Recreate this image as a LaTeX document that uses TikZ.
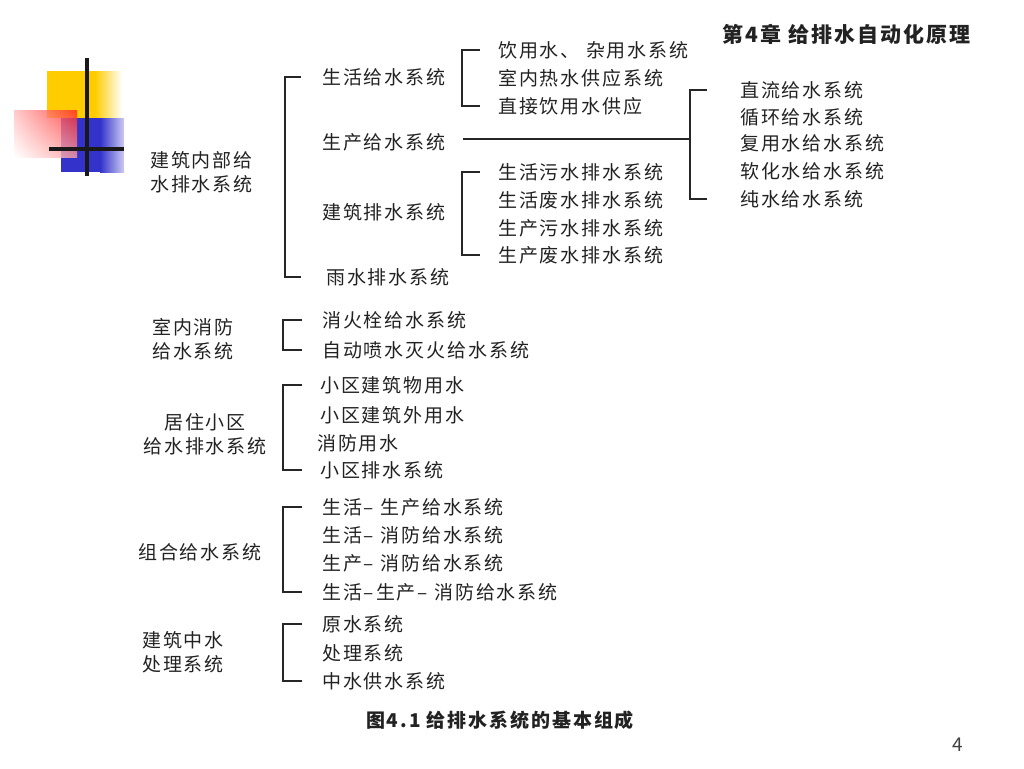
\documentclass[tikz,border=0pt]{standalone}
\usepackage{fontspec}
\usetikzlibrary{shadings}
\setmainfont{Noto Sans CJK SC}
\newfontfamily\cjsp[LetterSpace=10]{Noto Sans CJK SC}
\definecolor{txt}{HTML}{222222}
\definecolor{ylw}{HTML}{FFCC00}
\definecolor{blu}{HTML}{3333CC}
\definecolor{rd}{HTML}{FF2222}
\begin{document}
\begin{tikzpicture}[x=1pt,y=-1pt,
  lbl/.style={anchor=west,inner sep=0pt,text=txt,font=\cjsp\fontsize{19}{24}\selectfont},
  brk/.style={line width=1.8pt,draw=black!85}]
\useasboundingbox (0,0) rectangle (1024,768);
% logo
\fill[ylw] (47,71) rectangle (95,118);
\shade[left color=ylw,right color=white] (95,71) rectangle (122,118);
\fill[blu] (61,118) rectangle (100,172);
\shade[left color=blu,right color=blu!25] (100,118) rectangle (124,172);
\shade[upper right=rd,upper left=rd!30,lower right=rd!45,lower left=white,opacity=0.8] (14,110) rectangle (77,157);
\draw[line width=3.5pt,black!90] (87,58) -- (87,176);
\draw[line width=3.5pt,black!90] (49,149) -- (124,149);
% header
\node[lbl,font=\cjsp\fontsize{21}{22}\selectfont\bfseries] (hd) at (722,34) {第4章\ 给排水自动化原理};
% level 1
\node[lbl,align=left] (L1) at (150,172) {建筑内部给\\水排水系统};
\node[lbl,align=left] (L2) at (152,339) {室内消防\\给水系统};
\node[lbl,align=center,anchor=center] (L3) at (205,434) {居住小区\\给水排水系统};
\node[lbl] (L4) at (138,552) {组合给水系统};
\node[lbl,align=left] (L5) at (142,652) {建筑中水\\处理系统};
% level 2
\node[lbl] (a1) at (322,77) {生活给水系统};
\node[lbl] (a2) at (322,142) {生产给水系统};
\node[lbl] (a3) at (322,212) {建筑排水系统};
\node[lbl] (a4) at (326,277) {雨水排水系统};
\node[lbl] (b1) at (498,50) {饮用水、\ 杂用水系统};
\node[lbl] (b2) at (498,78) {室内热水供应系统};
\node[lbl] (b3) at (498,106) {直接饮用水供应};
\node[lbl] (c1) at (740,90) {直流给水系统};
\node[lbl] (c2) at (740,117) {循环给水系统};
\node[lbl] (c3) at (740,143) {复用水给水系统};
\node[lbl] (c4) at (740,171) {软化水给水系统};
\node[lbl] (c5) at (740,199) {纯水给水系统};
\node[lbl] (d1) at (498,172) {生活污水排水系统};
\node[lbl] (d2) at (498,200) {生活废水排水系统};
\node[lbl] (d3) at (498,228) {生产污水排水系统};
\node[lbl] (d4) at (498,255) {生产废水排水系统};
\node[lbl] (e1) at (322,320) {消火栓给水系统};
\node[lbl] (e2) at (322,350) {自动喷水灭火给水系统};
\node[lbl] (f1) at (320,385) {小区建筑物用水};
\node[lbl] (f2) at (320,415) {小区建筑外用水};
\node[lbl] (f3) at (317,443) {消防用水};
\node[lbl] (f4) at (320,470) {小区排水系统};
\node[lbl] (g1) at (322,507) {生活–\ 生产给水系统};
\node[lbl] (g2) at (322,535) {生活–\ 消防给水系统};
\node[lbl] (g3) at (322,563) {生产–\ 消防给水系统};
\node[lbl] (g4) at (322,592) {生活–生产–\ 消防给水系统};
\node[lbl] (h1) at (322,624) {原水系统};
\node[lbl] (h2) at (322,653) {处理系统};
\node[lbl] (h3) at (322,681) {中水供水系统};
% caption and page number
\node[lbl,anchor=center,font=\cjsp\fontsize{19}{20}\selectfont\bfseries] (cap) at (500,720) {图4.1 给排水系统的基本组成};
\node[lbl,anchor=center,text=black!75,font=\fontsize{19}{22}\selectfont] (pg) at (958,745) {4};
% bracket columns
\coordinate (mx) at (285,0); \coordinate (mt) at (301,0);
\coordinate (sx) at (462,0); \coordinate (st) at (480,0);
\coordinate (rx) at (690,0); \coordinate (rt) at (707,0);
\coordinate (lx) at (283,0); \coordinate (lt) at (302,0);
\draw[brk] (mt |- a1) -- (mx |- a1) -- (mx |- a4) -- (mt |- a4);
\draw[brk] (st |- b1) -- (sx |- b1) -- (sx |- b3) -- (st |- b3);
\draw[brk] (st |- d1) -- (sx |- d1) -- (sx |- d4) -- (st |- d4);
\coordinate (pa) at (463,139);
\coordinate (pb) at (690,139);
\draw[brk] (pa) -- (pb);
\draw[brk] (rt |- c1) -- (rx |- c1) -- (rx |- c5) -- (rt |- c5);
\draw[brk] (lt |- e1) -- (lx |- e1) -- (lx |- e2) -- (lt |- e2);
\draw[brk] (lt |- f1) -- (lx |- f1) -- (lx |- f4) -- (lt |- f4);
\draw[brk] (lt |- g1) -- (lx |- g1) -- (lx |- g4) -- (lt |- g4);
\draw[brk] (lt |- h1) -- (lx |- h1) -- (lx |- h3) -- (lt |- h3);
\end{tikzpicture}
\end{document}
